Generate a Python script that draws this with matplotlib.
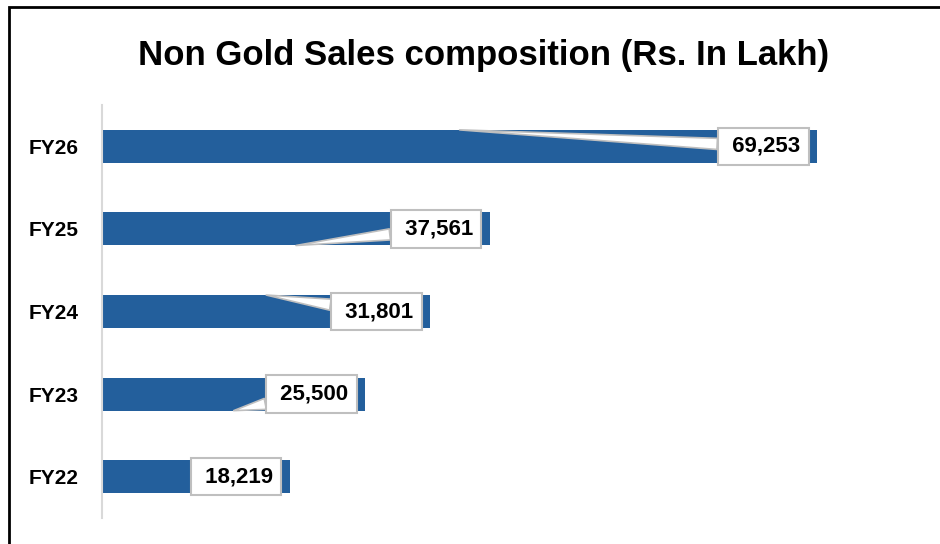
import matplotlib
matplotlib.use('Agg')
import matplotlib.pyplot as plt
from matplotlib.patches import Rectangle
from matplotlib.transforms import ScaledTranslation

# data
years = ['FY22', 'FY23', 'FY24', 'FY25', 'FY26']
sales = [18219, 25500, 31801, 37561, 69253]
title = 'Non Gold Sales composition (Rs. In Lakh)'

plt.rcParams['font.family'] = ['Liberation Sans', 'DejaVu Sans']

fig = plt.figure(figsize=(9.4, 5.44), dpi=100)
ax = fig.add_axes([0.1085, 0.0478, 0.879, 0.759])

ax.barh(years, sales, height=0.4, color='#235f9c', zorder=2)
ax.set_xlim(0, 80000)
ax.set_ylim(-0.5, 4.5)

ax.set_xticks([])
for s in ['top', 'right', 'bottom']:
    ax.spines[s].set_visible(False)
ax.spines['left'].set_color('#d9d9d9')
ax.spines['left'].set_linewidth(1.5)
ax.tick_params(axis='y', length=0, pad=17, labelsize=15)
for lab in ax.get_yticklabels():
    lab.set_fontweight('bold')

# callout labels, box sits a bit inside the bar end
shift = ax.transData + ScaledTranslation(-0.54, 0, fig.dpi_scale_trans)
for i, v in enumerate(sales):
    tip_y = i + 0.2 if i % 2 == 0 else i - 0.2
    ax.annotate(' {:,}'.format(v), xy=(v / 2, tip_y), xytext=(v, i),
                textcoords=shift, ha='center', va='center',
                fontsize=16, fontweight='bold', color='black', zorder=5,
                bbox=dict(boxstyle='square,pad=0.37', fc='white', ec='#bfbfbf', lw=1.5),
                arrowprops=dict(arrowstyle='wedge,tail_width=0.5', fc='white',
                                ec='#bfbfbf', lw=1.2, shrinkA=0, shrinkB=0))

fig.text(483.5 / 940, 1 - 56 / 544, title, ha='center', va='center',
         fontsize=25, fontweight='bold')

# outer frame (cut off at right and bottom)
fig.patches.append(Rectangle((9 / 940, -0.1), 1.2, 1 - 7 / 544 + 0.1,
                             transform=fig.transFigure, fill=False,
                             ec='black', lw=2))

fig.savefig('out.png', dpi=100)
